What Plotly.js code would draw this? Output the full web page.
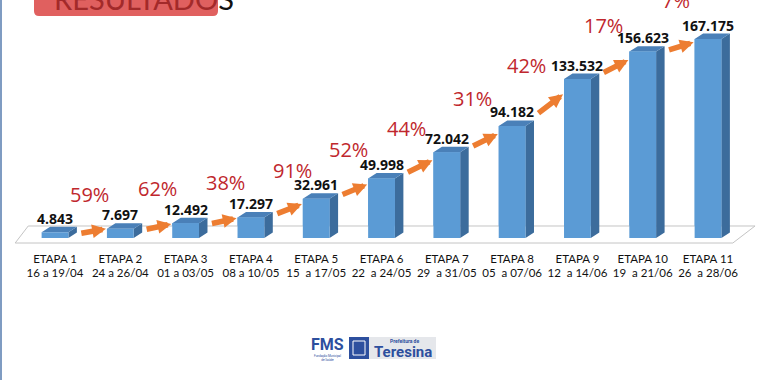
<!DOCTYPE html>
<html><head><meta charset="utf-8">
<script src="https://cdn.plot.ly/plotly-3.0.1.min.js"></script>
<style>html,body{margin:0;padding:0;background:#fff}#chart{width:760px;height:380px}</style>
</head><body><div id="chart"></div>
<script>
// ---- data ----
const etapas = ['ETAPA 1','ETAPA 2','ETAPA 3','ETAPA 4','ETAPA 5','ETAPA 6','ETAPA 7','ETAPA 8','ETAPA 9','ETAPA 10','ETAPA 11'];
const periodos = ['16 a 19/04','24 a 26/04','01 a 03/05','08 a 10/05','15  a 17/05','22  a 24/05','29  a 31/05','05  a 07/06','12  a 14/06','19  a 21/06','26  a 28/06'];
const casos = [4843, 7697, 12492, 17297, 32961, 49998, 72042, 94182, 133532, 156623, 167175];
const crescimento = ['59%','62%','38%','91%','52%','44%','31%','42%','17%','7%'];

// ---- layout tweaks (pixel nudges for the growth labels, as placed in the slide) ----
const pctNudgeX = [2, 5, 7, 9, 0, -8, -7, -18, -7, 1];
const pctNudgeY = [3, 2, 1, 1, 0, 2, -2, 2, -1, -6];

// ---- helpers / style ----
const idx = casos.map((_, i) => i);
const fmt = v => String(v).replace(/\B(?=(\d{3})+(?!\d))/g, '.');
const BAR_W = 0.41, DX = 0.13, DY = 4600;
const FRONT = '#5b9bd5', TOP = '#4a80b8', SIDE = '#3c6c9c';
const ML = 14, MT = 0, PW = 746, PH = 250;
const px = x => (x - ML) / PW;
const py = y => 1 - (y - MT) / PH;

// 3D faces computed from data
const sideX = [], sideY = [], topX = [], topY = [], frontX = [], frontY = [];
casos.forEach((v, i) => {
  const xl = i - BAR_W / 2, xr = i + BAR_W / 2;
  sideX.push(xr, xr, xr + DX, xr + DX, xr, null);
  sideY.push(0, v, v + DY, DY, 0, null);
  topX.push(xl, xr, xr + DX, xl + DX, xl, null);
  topY.push(v, v, v + DY, v + DY, v, null);
  frontX.push(xl, xr, xr, xl, xl, null);
  frontY.push(0, 0, v, v, 0, null);
});

const bars = {x: idx, y: casos, type: 'bar', width: BAR_W,
  marker: {color: FRONT, line: {width: 0}}, hoverinfo: 'skip'};
const floor = {
  x: [-0.61, -0.41, 10.72, 10.38, -0.61],
  y: [-4200, 10100, 10100, -4200, -4200],
  type: 'scatter', mode: 'lines', fill: 'toself', fillcolor: '#ffffff',
  line: {color: '#c4c4c4', width: 1}, hoverinfo: 'skip'
};
const poly = (x, y, c) => ({x: x, y: y, type: 'scatter', mode: 'lines', fill: 'toself',
  fillcolor: c, line: {width: 0, color: c}, hoverinfo: 'skip'});
const sides = poly(sideX, sideY, SIDE);
const tops = poly(topX, topY, TOP);
const fronts = poly(frontX, frontY, FRONT);

const annotations = [];
// value labels
casos.forEach((v, i) => {
  annotations.push({x: i, y: v, xref: 'x', yref: 'y', text: '<b>' + fmt(v) + '</b>', showarrow: false,
    xanchor: 'center', yanchor: 'middle', yshift: 14, font: {family: 'Open Sans', size: 14, color: '#111'}});
});
// growth arrows and percentages
crescimento.forEach((p, i) => {
  const a = casos[i], b = casos[i + 1], d = b - a;
  annotations.push({x: i + 0.78, y: a + 0.65 * d + 1000, ax: i + 0.38, ay: a + 0.3 * d - 2000,
    xref: 'x', yref: 'y', axref: 'x', ayref: 'y', text: '', showarrow: true,
    arrowhead: 2, arrowsize: 0.5, arrowwidth: 5.5, arrowcolor: '#ed7d31'});
  annotations.push({x: i + 0.5, y: (a + b) / 2, xref: 'x', yref: 'y', text: p, showarrow: false,
    xanchor: 'center', yanchor: 'middle', xshift: pctNudgeX[i], yshift: 39 - pctNudgeY[i],
    font: {family: 'Open Sans', size: 20, color: '#c0272d'}});
});
// header
annotations.push({xref: 'paper', yref: 'paper', x: px(52), y: py(18), xanchor: 'left', yanchor: 'bottom',
  text: '<span style="color:#a32a2a">RESULTADO</span>S', showarrow: false,
  font: {family: 'Lato', size: 29, color: '#111'}});
// logos
const logoFont = (s) => ({family: 'Roboto', size: s, color: '#2d4f9e'});
annotations.push({xref: 'paper', yref: 'paper', x: px(327), y: py(344), xanchor: 'center', yanchor: 'middle',
  text: '<b>FMS</b>', showarrow: false, font: logoFont(16)});
annotations.push({xref: 'paper', yref: 'paper', x: px(327), y: py(357), xanchor: 'center', yanchor: 'middle',
  text: 'Fundação Municipal<br>de Saúde', showarrow: false, font: logoFont(3)});
annotations.push({xref: 'paper', yref: 'paper', x: px(404), y: py(341), xanchor: 'center', yanchor: 'middle',
  text: '<b>Prefeitura de</b>', showarrow: false, font: logoFont(5)});
annotations.push({xref: 'paper', yref: 'paper', x: px(403), y: py(352), xanchor: 'center', yanchor: 'middle',
  text: '<b>Teresina</b>', showarrow: false, font: logoFont(15)});

const shapes = [
  {type: 'line', xref: 'paper', yref: 'paper', x0: px(1), x1: px(1), y0: py(380), y1: py(-5),
   line: {color: '#7f9cc2', width: 2}},
  {type: 'path', xref: 'paper', yref: 'paper', layer: 'below',
   path: `M ${px(34)} ${py(-10)} L ${px(34)} ${py(11)} Q ${px(34)} ${py(16)} ${px(39)} ${py(16)} L ${px(213)} ${py(16)} Q ${px(218)} ${py(16)} ${px(218)} ${py(11)} L ${px(218)} ${py(-10)} Z`,
   fillcolor: '#e0605f', line: {width: 0}},
  {type: 'rect', xref: 'paper', yref: 'paper', x0: px(368), x1: px(436), y0: py(359), y1: py(337),
   fillcolor: '#e5e7eb', line: {width: 0}, layer: 'below'},
  {type: 'rect', xref: 'paper', yref: 'paper', x0: px(349), x1: px(369), y0: py(359), y1: py(337),
   fillcolor: '#2d4f9e', line: {width: 0}, layer: 'below'},
  {type: 'rect', xref: 'paper', yref: 'paper', x0: px(353), x1: px(365), y0: py(355), y1: py(341),
   fillcolor: 'rgba(0,0,0,0)', line: {width: 1, color: '#ffffff'}, layer: 'below'}
];

const layout = {
  width: 760, height: 380,
  margin: {l: ML, r: 0, t: MT, b: 380 - MT - PH},
  paper_bgcolor: '#ffffff', plot_bgcolor: 'rgba(0,0,0,0)',
  showlegend: false, hovermode: false,
  xaxis: {range: [-0.628, 10.796], tickvals: idx,
    ticktext: idx.map(i => etapas[i] + '<br>' + periodos[i]),
    showgrid: false, zeroline: false, showline: false, ticks: '', fixedrange: true,
    tickfont: {family: 'Lato', size: 11.5, color: '#111'}},
  yaxis: {range: [-10080, 200000], visible: false, fixedrange: true},
  annotations: annotations, shapes: shapes
};

Plotly.newPlot('chart', [bars, floor, sides, tops, fronts], layout, {staticPlot: true, displayModeBar: false});
</script></body></html>
